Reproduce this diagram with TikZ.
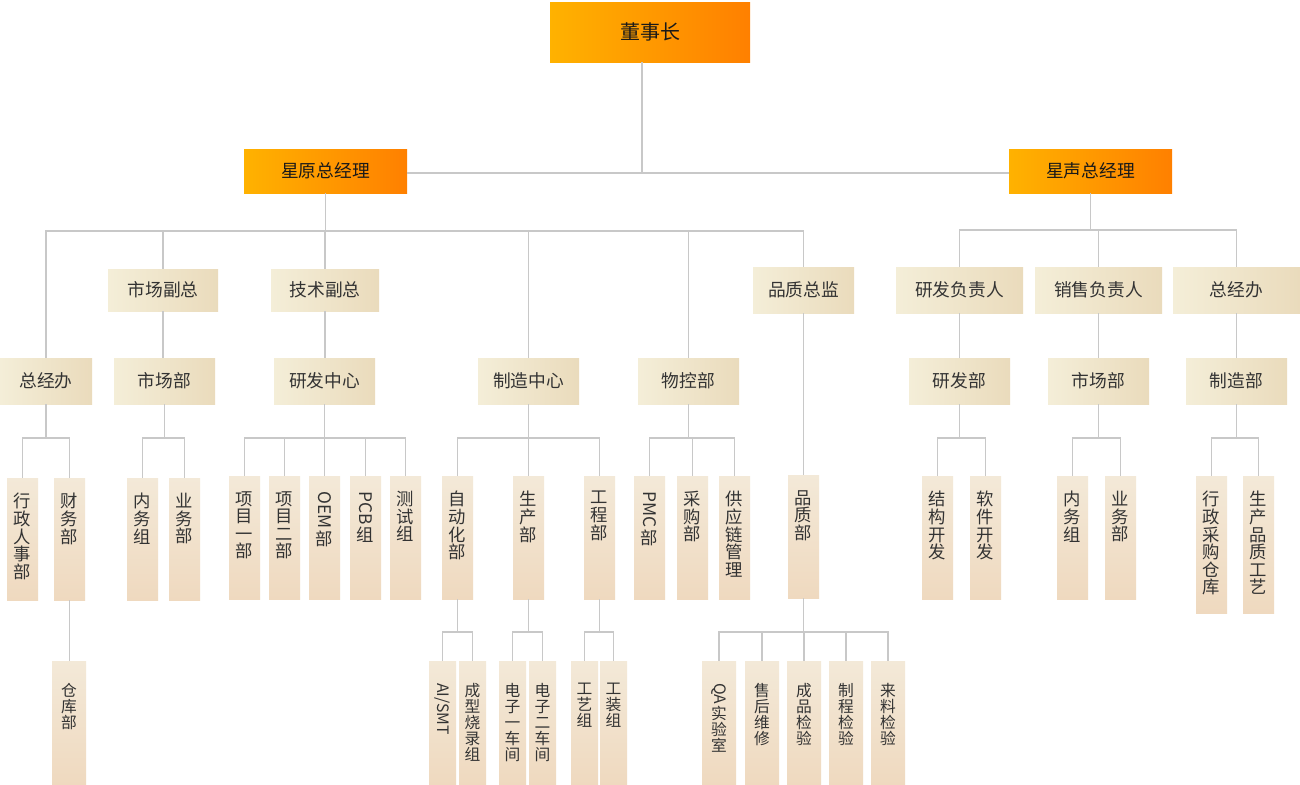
\documentclass[tikz,border=0pt]{standalone}
\usepackage{fontspec}
\usepackage{graphicx}
\setmainfont{Noto Sans CJK SC}
\usetikzlibrary{fit}
\definecolor{orgL}{HTML}{FFB200}
\definecolor{orgR}{HTML}{FF8000}
\definecolor{crL}{HTML}{F4EED8}
\definecolor{crR}{HTML}{EADBBC}
\definecolor{vtT}{HTML}{F3E9D8}
\definecolor{vtB}{HTML}{EFD9BF}
\definecolor{lineg}{HTML}{C8C8C8}
\definecolor{txt}{HTML}{333333}
\newcommand\rl[1]{\rotatebox{-90}{#1}}
\newcommand\vtfontA{\fontsize{13}{13.2}\selectfont\lineskiplimit -3pt\relax\lineskip 1.5pt\relax}
\newcommand\vtfontB{\fontsize{11.8}{12}\selectfont\lineskiplimit -3pt\relax\lineskip 1.5pt\relax}
\begin{document}
\begin{tikzpicture}[x=0.75pt,y=-0.75pt,
  topbox/.style={inner sep=0pt, left color=orgL, right color=orgR},
  hbox/.style={inner sep=0pt, left color=crL, right color=crR},
  vbox/.style={inner sep=0pt, top color=vtT, bottom color=vtB},
  vtxt/.style={inner sep=0pt, align=center, text=txt, anchor=north, font=\vtfontA},
  vtxs/.style={inner sep=0pt, align=center, text=txt, anchor=north, font=\vtfontB},
  conn/.style={draw=lineg, line width=0.8pt}]
\useasboundingbox (0,0) rectangle (1300,785);
\fill[white] (0,0) rectangle (1300,785);

% level 1
\node[topbox, fit={(550,2) (750,62)}] (chair) {};
\node[inner sep=0pt, text=black!90, font=\fontsize{15}{18}\selectfont] (chairt) at (chair.center) {董事长};
\node[topbox, fit={(244,149) (407,193)}] (gm1) {};
\node[inner sep=0pt, text=black!90, font=\fontsize{13.3}{16}\selectfont] (gm1t) at (gm1.center) {星原总经理};
\node[topbox, fit={(1009,149) (1172,193)}] (gm2) {};
\node[inner sep=0pt, text=black!90, font=\fontsize{13.3}{16}\selectfont] (gm2t) at (gm2.center) {星声总经理};

% level 2 / 3 horizontal boxes
\newcommand\hbx[6]{\node[hbox, fit={(#2,#3) (#4,#5)}] (#1) {};
  \node[text=txt, font=\fontsize{13.3}{16}\selectfont, inner sep=0pt] (#1t) at (#1.center) {#6};}
\hbx{mvp}{108}{269}{218}{311}{市场副总}
\hbx{tvp}{271}{269}{379}{311}{技术副总}
\hbx{qd}{753}{267}{854}{313}{品质总监}
\hbx{rdl}{896}{267}{1023}{313}{研发负责人}
\hbx{sll}{1035}{267}{1162}{313}{销售负责人}
\hbx{goB}{1173}{267}{1300}{313}{总经办}
\hbx{goA}{0}{358}{92}{404}{总经办}
\hbx{mkA}{114}{358}{215}{404}{市场部}
\hbx{rdc}{274}{358}{375}{404}{研发中心}
\hbx{mfc}{478}{358}{579}{404}{制造中心}
\hbx{mat}{638}{358}{739}{404}{物控部}
\hbx{rdB}{909}{358}{1010}{404}{研发部}
\hbx{mkB}{1048}{358}{1149}{404}{市场部}
\hbx{mfB}{1186}{358}{1287}{404}{制造部}

% vertical boxes
\newcommand\vbx[6]{\node[vbox, fit={(#2,#3) (#4,#5)}] (#1) {};
  \node[vtxt] (#1t) at ([yshift=-11.5pt]#1.north) {#6};}
\newcommand\vbs[6]{\node[vbox, fit={(#2,#3) (#4,#5)}] (#1) {};
  \node[vtxs] (#1t) at ([yshift=-16.5pt]#1.north) {#6};}

\vbx{a1}{7}{478}{38}{600}{行\\政\\人\\事\\部}
\vbx{a2}{54}{478}{85}{600}{财\\务\\部}
\vbx{b1}{127}{478}{158}{600}{内\\务\\组}
\vbx{b2}{169}{478}{200}{600}{业\\务\\部}
\vbx{c1}{229}{476}{260}{599}{项\\目\\一\\部}
\vbx{c2}{269}{476}{300}{599}{项\\目\\二\\部}
\vbx{c3}{309}{476}{340}{599}{\rl{OEM}\\部}
\vbx{c4}{350}{476}{381}{599}{\rl{PCB}\\组}
\vbx{c5}{390}{476}{421}{599}{测\\试\\组}
\vbx{d1}{442}{476}{473}{599}{自\\动\\化\\部}
\vbx{d2}{513}{476}{544}{599}{生\\产\\部}
\vbx{d3}{584}{476}{615}{599}{工\\程\\部}
\vbx{e1}{634}{476}{665}{599}{\rl{PMC}\\部}
\vbx{e2}{677}{476}{708}{599}{采\\购\\部}
\vbx{e3}{719}{476}{750}{599}{供\\应\\链\\管\\理}
\vbx{q1}{788}{475}{819}{598}{品\\质\\部}
\vbx{f1}{922}{476}{953}{599}{结\\构\\开\\发}
\vbx{f2}{970}{476}{1001}{599}{软\\件\\开\\发}
\vbx{g1}{1057}{476}{1088}{599}{内\\务\\组}
\vbx{g2}{1105}{476}{1136}{599}{业\\务\\部}
\vbx{h1}{1196}{476}{1227}{613}{行\\政\\采\\购\\仓\\库}
\vbx{h2}{1243}{476}{1274}{613}{生\\产\\品\\质\\工\\艺}

\vbs{a21}{52}{661}{86}{785}{仓\\库\\部}
\vbs{d11}{429}{661}{456}{785}{\rl{AI/SMT}}
\vbs{d12}{459}{661}{486}{785}{成\\型\\烧\\录\\组}
\vbs{d21}{499}{661}{526}{785}{电\\子\\一\\车\\间}
\vbs{d22}{529}{661}{556}{785}{电\\子\\二\\车\\间}
\vbs{d31}{571}{661}{598}{785}{工\\艺\\组}
\vbs{d32}{600}{661}{627}{785}{工\\装\\组}
\vbs{q11}{702}{661}{736}{785}{\rl{QA}\\实\\验\\室}
\vbs{q12}{745}{661}{779}{785}{售\\后\\维\\修}
\vbs{q13}{787}{661}{821}{785}{成\\品\\检\\验}
\vbs{q14}{829}{661}{863}{785}{制\\程\\检\\验}
\vbs{q15}{871}{661}{905}{785}{来\\料\\检\\验}

% connectors
\coordinate (j0) at (642,173);
\draw[conn] (chair.south -| j0) -- (j0);
\draw[conn] (gm1.east |- j0) -- (gm2.west |- j0);

\coordinate (bA) at (325,231);
\draw[conn] (gm1.south) -- (gm1.south |- bA);
\foreach \c in {goA,mvp,tvp,mfc,mat,qd} \draw[conn] (gm1.south |- bA) -| (\c.north);
\coordinate (bB) at (1090,230);
\draw[conn] (gm2.south) -- (gm2.south |- bB);
\foreach \c in {rdl,sll,goB} \draw[conn] (gm2.south |- bB) -| (\c.north);

\draw[conn] (mvp.south) -- (mvp.south |- mkA.north);
\draw[conn] (tvp.south) -- (tvp.south |- rdc.north);
\draw[conn] (qd.south) -- (qd.south |- q1.north);
\draw[conn] (rdl.south) -- (rdl.south |- rdB.north);
\draw[conn] (sll.south) -- (sll.south |- mkB.north);
\draw[conn] (goB.south) -- (goB.south |- mfB.north);

\coordinate (y4) at (0,438);
\newcommand\bus[2]{\draw[conn] (#1.south) -- (#1.south |- y4);
  \foreach \c in {#2} \draw[conn] (#1.south |- y4) -| (\c.north);}
\bus{goA}{a1,a2}
\bus{mkA}{b1,b2}
\bus{rdc}{c1,c2,c3,c4,c5}
\bus{mfc}{d1,d2,d3}
\bus{mat}{e1,e2,e3}
\bus{rdB}{f1,f2}
\bus{mkB}{g1,g2}
\bus{mfB}{h1,h2}

\draw[conn] (a2.south) -- (a2.south |- a21.north);
\coordinate (y5) at (0,632);
\newcommand\busb[2]{\draw[conn] (#1.south) -- (#1.south |- y5);
  \foreach \c in {#2} \draw[conn] (#1.south |- y5) -| (\c.north);}
\busb{d1}{d11,d12}
\busb{d2}{d21,d22}
\busb{d3}{d31,d32}
\busb{q1}{q11,q12,q13,q14,q15}
\end{tikzpicture}
\end{document}
